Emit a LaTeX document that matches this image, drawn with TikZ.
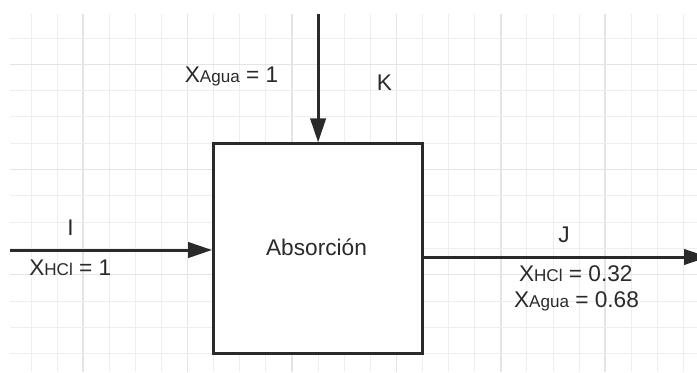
\documentclass[tikz,border=0pt]{standalone}
\usepackage{fontspec}
\setmainfont{Liberation Sans}
\usetikzlibrary{arrows.meta}
\definecolor{ink}{HTML}{2A2A2A}
\definecolor{gridminor}{HTML}{EEEEEE}
\definecolor{gridmajor}{HTML}{E4E4E4}
\newcommand{\Xs}[1]{X{\fontsize{12.8}{14}\selectfont #1}}
\begin{document}
\begin{tikzpicture}[x=0.75pt,y=-0.75pt,
  minorline/.style={draw=gridminor,line width=0.75pt},
  majorline/.style={draw=gridmajor,line width=1.1pt},
  flow/.style={draw=ink,line width=2.25pt,-{Triangle[length=18pt,width=11.5pt]}},
  unitbox/.style={draw=ink,line width=2.25pt,fill=white,minimum width=156.75pt,minimum height=157.5pt,inner sep=0pt},
  lbl/.style={text=ink,font=\fontsize{17}{19}\selectfont,inner sep=0pt,anchor=base}]
\useasboundingbox (0,0) rectangle (697,372);
\clip (0,0) rectangle (697,372);
\fill[white] (0,0) rectangle (697,372);
% grid
\foreach \k in {0,...,25}{
  \pgfmathsetmacro{\gx}{31+26.1*\k}
  \pgfmathtruncatemacro{\m}{mod(\k,4)}
  \ifnum\m=2 \draw[majorline] (\gx,14) -- (\gx,372);
  \else \draw[minorline] (\gx,14) -- (\gx,372); \fi
}
\foreach \k in {0,...,12}{
  \pgfmathsetmacro{\gy}{38+26.3*\k}
  \pgfmathtruncatemacro{\m}{mod(\k,4)}
  \ifnum\m=1 \draw[majorline] (10,\gy) -- (697,\gy);
  \else \draw[minorline] (10,\gy) -- (697,\gy); \fi
}
% box
\node[unitbox,lbl,anchor=center] (box) at (318.1,248.9) {};
\node[lbl] (abs) at (316.5,255.5) {Absorción};
% stream ends
\coordinate (kin) at (318.1,14);
\coordinate (iin) at (10,250);
\coordinate (jout) at (708,257);
% connectors
\draw[flow] (kin) -- (box.north);
\draw[flow] (iin) -- (iin -| box.west);
\draw[flow] (jout -| box.east) -- (jout);
% labels
\node[lbl] (xk) at (231.5,82) {\Xs{Agua} = 1};
\node[lbl] (k) at (384.5,90) {K};
\node[lbl] (i) at (70.5,235) {I};
\node[lbl] (xi) at (70.3,275.7) {\Xs{HCl} = 1};
\node[lbl] (j) at (564,242) {J};
\node[lbl] (xj1) at (575.8,281) {\Xs{HCl} = 0.32};
\node[lbl] (xj2) at (576.5,307) {\Xs{Agua} = 0.68};
\end{tikzpicture}
\end{document}
